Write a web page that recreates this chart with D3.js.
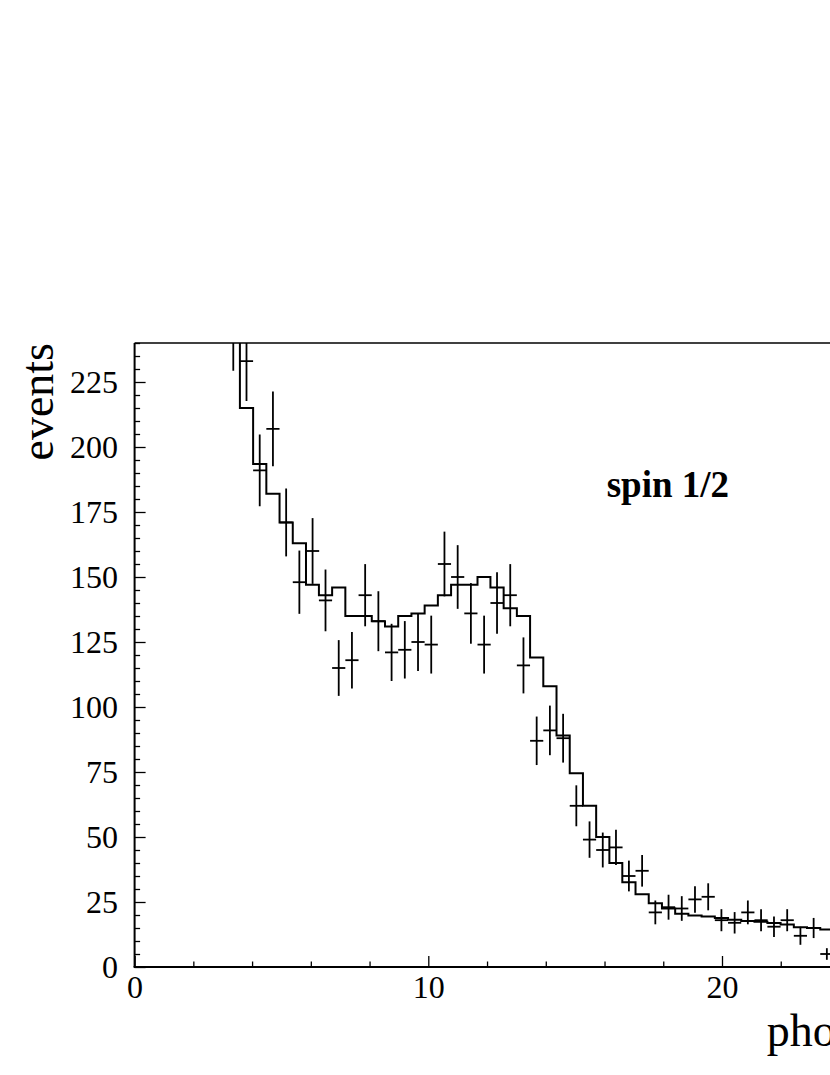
<!DOCTYPE html>
<html>
<head>
<meta charset="utf-8">
<script src="https://cdn.jsdelivr.net/npm/d3@7"></script>
<style>
  html, body { margin: 0; padding: 0; background: #fff; overflow: hidden; }
  svg { display: block; }
  text { font-family: "Liberation Serif", "Times New Roman", serif; fill: #000; }
</style>
</head>
<body>
<svg id="chart" width="830" height="1075"></svg>
<script>
// ---------- data ----------
const binWidth = 0.449;
const binCenters = [3.36, 3.81, 4.26, 4.71, 5.16, 5.61, 6.06, 6.50, 6.95, 7.40,
  7.85, 8.30, 8.75, 9.20, 9.65, 10.10, 10.55, 11.00, 11.45, 11.90,
  12.34, 12.79, 13.24, 13.69, 14.14, 14.59, 15.04, 15.49, 15.94, 16.39,
  16.83, 17.28, 17.73, 18.18, 18.63, 19.08, 19.53, 19.98, 20.43, 20.88,
  21.33, 21.77, 22.22, 22.67, 23.12, 23.57, 24.02];
const dataCounts = [245, 233, 191, 207, 171, 148, 160, 141, 115, 118,
  143, 133, 121, 122, 125, 124, 155, 150, 136, 124,
  140, 143, 116, 87, 91, 88, 62, 49, 45, 46,
  35, 37, 21, 23, 22.5, 26, 27, 18, 17, 21,
  18, 15.5, 18, 12, 15, 5];
const modelCounts = [248, 215, 193.5, 182, 171, 163, 147, 143, 146, 135,
  135, 133, 131, 135, 136, 139, 143, 147, 147, 150,
  146, 138, 135, 119, 108, 89, 74.5, 62, 50, 40,
  32.6, 28, 24.5, 22.5, 20.5, 19.8, 19.4, 18.8, 18.2, 17.7,
  17.4, 16.9, 16.3, 15.3, 15, 14.4, 13.6];
const yMajorTicks = [0, 25, 50, 75, 100, 125, 150, 175, 200, 225];
const xMajorTicks = [0, 10, 20];
const yTitle = "events";
const xTitle = "photon energy (GeV)";
const label = "spin 1/2";

// ---------- layout ----------
const fLeft = 134.6, fTop = 343, fBottom = 967;
const pxPerUnit = 29.37;
const xMax = 30;
const fRight = fLeft + pxPerUnit * xMax;

const svg = d3.select("#chart");
const x = d3.scaleLinear().domain([0, xMax]).range([fLeft, fRight]);
const y = d3.scaleLinear().domain([0, 240]).range([fBottom, fTop]);

svg.append("defs").append("clipPath").attr("id", "frameClip")
  .append("rect").attr("x", fLeft).attr("y", fTop)
  .attr("width", fRight - fLeft).attr("height", fBottom - fTop);

// minor ticks
const yMinor = d3.range(0, 241, 5).filter(v => v % 25 !== 0);
const xMinor = d3.range(0, xMax + 0.1, 2).filter(v => v % 10 !== 0);

svg.append("g").attr("transform", `translate(${fLeft},0)`)
  .call(d3.axisLeft(y).tickValues(yMinor).tickSize(-5.5).tickFormat(""))
  .call(g => g.select(".domain").remove())
  .call(g => g.selectAll("line").attr("stroke", "#000").attr("stroke-width", 1.3));

svg.append("g").attr("transform", `translate(0,${fBottom})`)
  .call(d3.axisBottom(x).tickValues(xMinor).tickSize(-5.5).tickFormat(""))
  .call(g => g.select(".domain").remove())
  .call(g => g.selectAll("line").attr("stroke", "#000").attr("stroke-width", 1.3));

// major ticks + labels
svg.append("g").attr("transform", `translate(${fLeft},0)`)
  .call(d3.axisLeft(y).tickValues(yMajorTicks).tickSize(-11).tickPadding(16.5))
  .call(g => g.select(".domain").remove())
  .call(g => g.selectAll("line").attr("stroke", "#000").attr("stroke-width", 1.3))
  .call(g => g.selectAll("text").attr("font-size", 32)
    .attr("font-family", "Liberation Serif").attr("fill", "#000"));

svg.append("g").attr("transform", `translate(0,${fBottom})`)
  .call(d3.axisBottom(x).tickValues(xMajorTicks).tickSize(-11).tickPadding(8.5))
  .call(g => g.select(".domain").remove())
  .call(g => g.selectAll("line").attr("stroke", "#000").attr("stroke-width", 1.3))
  .call(g => g.selectAll("text").attr("font-size", 32)
    .attr("font-family", "Liberation Serif").attr("fill", "#000"));
svg.append("g").attr("transform", `translate(0,${fBottom})`)
  .call(d3.axisBottom(x).tickValues([30]).tickSize(-11).tickFormat(""))
  .call(g => g.select(".domain").remove())
  .call(g => g.selectAll("line").attr("stroke", "#000").attr("stroke-width", 1.3));

// frame
svg.append("line").attr("x1", fLeft).attr("x2", fRight).attr("y1", fTop).attr("y2", fTop)
  .attr("stroke", "#000").attr("stroke-width", 1.5);
svg.append("line").attr("x1", fLeft).attr("x2", fLeft).attr("y1", fTop).attr("y2", fBottom)
  .attr("stroke", "#000").attr("stroke-width", 2);
svg.append("line").attr("x1", fLeft - 1).attr("x2", fRight).attr("y1", fBottom).attr("y2", fBottom)
  .attr("stroke", "#000").attr("stroke-width", 2.2);

const plot = svg.append("g").attr("clip-path", "url(#frameClip)");

// model histogram (step line)
const stepPts = modelCounts.map((v, i) => [binCenters[i] - binWidth / 2, v]);
const lastI = modelCounts.length - 1;
stepPts.push([binCenters[lastI] + binWidth / 2, modelCounts[lastI]]);
plot.append("path")
  .attr("d", d3.line().x(d => x(d[0])).y(d => y(d[1])).curve(d3.curveStepAfter)(stepPts))
  .attr("fill", "none").attr("stroke", "#000").attr("stroke-width", 2);

// data points with error bars
const pts = plot.append("g").attr("stroke", "#000").attr("stroke-width", 1.8);
dataCounts.forEach((v, i) => {
  const c = binCenters[i], e = Math.sqrt(v);
  pts.append("line").attr("x1", x(c)).attr("x2", x(c)).attr("y1", y(v + e)).attr("y2", y(v - e));
  pts.append("line").attr("x1", x(c - binWidth / 2)).attr("x2", x(c + binWidth / 2))
    .attr("y1", y(v)).attr("y2", y(v));
});

// titles
svg.append("text").attr("transform", `translate(53,${fTop}) rotate(-90)`)
  .attr("text-anchor", "end").attr("font-size", 46).text(yTitle);
svg.append("text").attr("x", 766.7).attr("y", 1046)
  .attr("font-size", 46).text(xTitle);
svg.append("text").attr("x", 606.7).attr("y", 496.7)
  .attr("font-size", 37).attr("font-weight", "bold").text(label);
</script>
</body>
</html>
